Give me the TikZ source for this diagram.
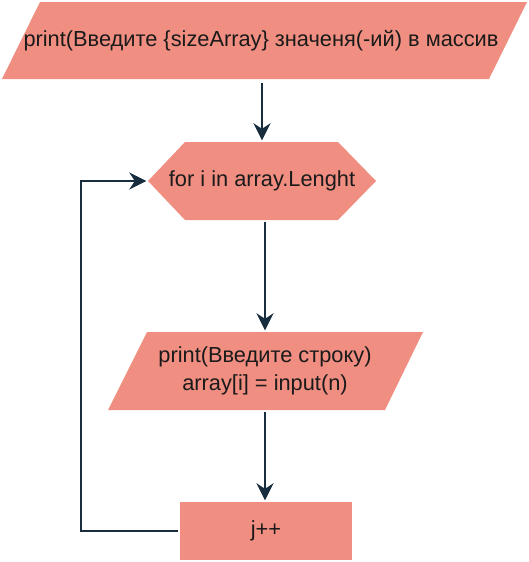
\documentclass[tikz,border=0pt]{standalone}
\usepackage{fontspec}
\setmainfont{Liberation Sans}
\usetikzlibrary{arrows.meta,calc}
\definecolor{boxfill}{HTML}{F08E81}
\definecolor{edgecol}{HTML}{182E3E}
\definecolor{txtcol}{HTML}{1A1A1A}
\begin{document}
\begin{tikzpicture}[x=1pt,y=-1pt,
 lbl/.style={text=txtcol,font=\fontsize{21.8}{28.3}\selectfont,align=center,inner sep=0pt},
 conn/.style={draw=edgecol,line width=2.2pt,-{Stealth[length=17pt,width=17pt,inset=5.5pt]},shorten >=1.5pt}
]
\useasboundingbox (0,0) rectangle (528,562);
\fill[boxfill] (40,2) -- (527,2) -- (489,79) -- (2,79) -- cycle;
\fill[boxfill] (148,181) -- (185,142) -- (338,142) -- (376,181) -- (338,220) -- (185,220) -- cycle;
\fill[boxfill] (147,332) -- (423,332) -- (385,410) -- (108,410) -- cycle;
\fill[boxfill] (180,502) rectangle (352,560);
\node[lbl,minimum width=450pt,minimum height=77pt] (p1) at (261,41) {print(Введите \{sizeArray\} значеня(-ий) в массив};
\node[lbl,minimum width=228pt,minimum height=78pt] (hex) at (262,181) {for i in array.Lenght};
\node[lbl,minimum width=240pt,minimum height=78pt] (p2) at (265,371) {print(Введите строку)\\array[i] = input(n)};
\node[lbl,minimum width=172pt,minimum height=58pt] (rect) at (266,531) {j++};
\coordinate (lp) at (81,531);
\draw[conn,shorten <=3pt] (p1.south -| hex.north) -- (hex.north);
\draw[conn,shorten <=2pt] (hex.south -| p2.north) -- (p2.north);
\draw[conn,shorten <=2pt] (p2.south) -- (p2.south |- rect.north);
\draw[conn,shorten <=2pt] (rect.west) -- (lp) |- (hex.west);
\end{tikzpicture}
\end{document}
